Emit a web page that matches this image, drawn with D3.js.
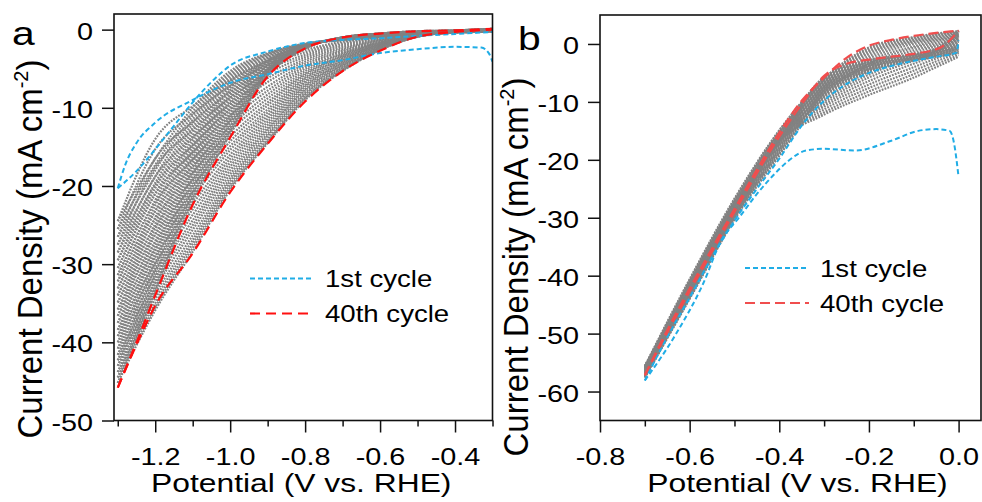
<!DOCTYPE html>
<html>
<head>
<meta charset="utf-8">
<script src="https://cdn.jsdelivr.net/npm/d3@7"></script>
<style>
	body { margin: 0; background: #fff; }
	text { font-family: "Liberation Sans", Arial, sans-serif; fill: #000; }
</style>
</head>
<body>
<svg id="chart" width="982" height="502"></svg>
<script>
/**
 * Panel a: cycling between -1.3 and -0.3 V.
 */
var potA = [-1.3, -1.2, -1.1, -1.0, -0.9, -0.8, -0.7, -0.6, -0.5, -0.4, -0.3];
// Intermediate cycles (gray), return scan.
var grayRevA = [
	[-24.5, -16.5, -10.0, -5.3, -3.0, -1.8, -1.3, -0.9, -0.6, -0.4, -0.2],
	[-25.5, -17.3, -10.5, -5.6, -3.1, -1.8, -1.3, -0.9, -0.6, -0.4, -0.2],
	[-26.5, -18.0, -11.0, -5.9, -3.2, -1.9, -1.3, -0.9, -0.6, -0.4, -0.2],
	[-27.5, -18.8, -11.5, -6.2, -3.3, -1.9, -1.3, -0.9, -0.6, -0.3, -0.2],
	[-28.5, -19.6, -12.0, -6.5, -3.5, -1.9, -1.2, -0.8, -0.5, -0.3, -0.2],
	[-29.5, -20.3, -12.5, -6.8, -3.6, -2.0, -1.2, -0.8, -0.5, -0.3, -0.2],
	[-30.5, -21.0, -13.0, -7.2, -3.7, -2.0, -1.2, -0.8, -0.5, -0.3, -0.1],
	[-31.4, -21.8, -13.5, -7.5, -3.9, -2.0, -1.2, -0.8, -0.5, -0.3, -0.1],
	[-32.2, -22.5, -14.0, -7.8, -4.0, -2.0, -1.2, -0.7, -0.5, -0.3, -0.1],
	[-33.1, -23.2, -14.5, -8.2, -4.1, -2.0, -1.2, -0.7, -0.5, -0.3, -0.1],
	[-34.0, -24.0, -15.0, -8.5, -4.2, -2.1, -1.1, -0.7, -0.4, -0.3, -0.1],
	[-34.9, -24.8, -15.5, -8.8, -4.3, -2.1, -1.1, -0.7, -0.4, -0.3, -0.1],
	[-35.8, -25.5, -16.0, -9.2, -4.5, -2.1, -1.1, -0.7, -0.4, -0.2, 0.0],
	[-36.6, -26.2, -16.5, -9.5, -4.6, -2.2, -1.1, -0.7, -0.4, -0.2, 0.0],
	[-37.5, -27.0, -17.0, -9.9, -4.7, -2.2, -1.1, -0.6, -0.4, -0.2, 0.0],
	[-38.4, -27.7, -17.5, -10.2, -4.8, -2.2, -1.1, -0.6, -0.4, -0.2, 0.0],
	[-39.2, -28.4, -18.0, -10.6, -5.0, -2.2, -1.1, -0.6, -0.3, -0.2, 0.0],
	[-40.0, -29.1, -18.5, -11.0, -5.1, -2.2, -1.0, -0.6, -0.3, -0.2, 0.0],
	[-40.8, -29.8, -19.0, -11.3, -5.2, -2.3, -1.0, -0.6, -0.3, -0.2, 0.0],
	[-41.6, -30.5, -19.5, -11.6, -5.3, -2.3, -1.0, -0.5, -0.3, -0.2, 0.0],
	[-42.3, -31.2, -20.0, -12.0, -5.4, -2.3, -1.0, -0.5, -0.3, -0.1, 0.1],
	[-43.0, -31.9, -20.5, -12.4, -5.5, -2.3, -1.0, -0.5, -0.3, -0.1, 0.1],
	[-43.8, -32.5, -21.0, -12.7, -5.6, -2.4, -1.0, -0.5, -0.2, -0.1, 0.1],
	[-44.5, -33.1, -21.5, -13.0, -5.8, -2.4, -1.0, -0.5, -0.2, -0.1, 0.1],
	[-45.2, -33.6, -22.0, -13.4, -5.9, -2.4, -1.0, -0.5, -0.2, -0.1, 0.1]
];
// Intermediate cycles (gray), forward scan.
var grayFwdA = [
	[-24.5, -14.0, -9.8, -6.5, -4.0, -2.6, -1.5, -0.9, -0.5, -0.3, -0.2],
	[-25.5, -15.3, -10.8, -7.2, -4.5, -2.9, -1.7, -1.0, -0.5, -0.3, -0.2],
	[-26.5, -16.5, -11.8, -8.0, -5.1, -3.2, -1.9, -1.1, -0.5, -0.3, -0.2],
	[-27.5, -17.6, -12.8, -8.7, -5.6, -3.5, -2.1, -1.2, -0.6, -0.3, -0.2],
	[-28.5, -18.8, -13.8, -9.5, -6.2, -3.8, -2.3, -1.3, -0.6, -0.3, -0.2],
	[-29.5, -19.9, -14.8, -10.2, -6.7, -4.1, -2.5, -1.3, -0.6, -0.3, -0.2],
	[-30.5, -21.0, -15.7, -11.0, -7.3, -4.4, -2.7, -1.4, -0.6, -0.3, -0.1],
	[-31.4, -22.1, -16.6, -11.7, -7.8, -4.7, -2.8, -1.5, -0.6, -0.3, -0.1],
	[-32.2, -23.2, -17.5, -12.4, -8.3, -5.0, -3.0, -1.6, -0.6, -0.3, -0.1],
	[-33.1, -24.2, -18.3, -13.0, -8.8, -5.3, -3.1, -1.6, -0.6, -0.3, -0.1],
	[-34.0, -25.2, -19.2, -13.7, -9.3, -5.6, -3.3, -1.7, -0.7, -0.3, -0.1],
	[-34.9, -26.2, -20.0, -14.3, -9.7, -5.8, -3.4, -1.8, -0.7, -0.3, -0.1],
	[-35.8, -27.2, -20.8, -14.9, -10.2, -6.1, -3.6, -1.9, -0.7, -0.3, -0.1],
	[-36.6, -28.1, -21.5, -15.4, -10.6, -6.3, -3.7, -1.9, -0.7, -0.3, 0.0],
	[-37.5, -29.0, -22.3, -16.0, -11.0, -6.6, -3.9, -2.0, -0.7, -0.3, 0.0],
	[-38.4, -29.9, -23.0, -16.5, -11.4, -6.8, -4.0, -2.0, -0.8, -0.3, 0.0],
	[-39.2, -30.8, -23.7, -17.0, -11.8, -7.1, -4.2, -2.1, -0.8, -0.3, 0.0],
	[-40.0, -31.6, -24.4, -17.5, -12.2, -7.3, -4.3, -2.2, -0.8, -0.3, 0.0],
	[-40.8, -32.4, -25.0, -18.0, -12.6, -7.6, -4.5, -2.3, -0.8, -0.3, 0.0],
	[-41.6, -33.1, -25.6, -18.5, -12.9, -7.8, -4.6, -2.3, -0.8, -0.3, 0.0],
	[-42.3, -33.8, -26.3, -19.0, -13.3, -8.1, -4.8, -2.4, -0.9, -0.3, 0.0],
	[-43.0, -34.4, -26.9, -19.4, -13.6, -8.3, -4.9, -2.5, -0.9, -0.3, 0.0],
	[-43.8, -35.0, -27.4, -19.8, -14.0, -8.6, -5.1, -2.5, -0.9, -0.3, 0.0],
	[-44.5, -35.5, -27.9, -20.2, -14.3, -8.8, -5.2, -2.6, -0.9, -0.3, 0.0],
	[-45.2, -35.9, -28.4, -20.5, -14.5, -9.0, -5.3, -2.6, -0.9, -0.3, 0.0]
];
// 40th cycle.
var redPotA = [-1.3, -1.25, -1.2, -1.1, -1.0, -0.9, -0.8, -0.7, -0.6, -0.5, -0.4, -0.3];
var redRevA = [-45.8, -40.0, -34.0, -22.4, -13.8, -6.0, -2.4, -1.0, -0.5, -0.2, -0.1, 0.1];
var redFwdA = [-45.8, -40.3, -35.3, -28.6, -20.8, -14.6, -9.2, -5.3, -2.7, -0.9, -0.3, 0.0];
// 1st cycle.
var bluePotFwdA = [-0.3, -0.31, -0.33, -0.4, -0.5, -0.6, -0.7, -0.8, -0.9, -1.0, -1.1, -1.2, -1.25, -1.28, -1.3];
var blueFwdA = [-4.1, -3.0, -2.3, -2.2, -2.5, -3.0, -3.9, -4.6, -5.7, -6.8, -9.0, -11.9, -14.5, -17.3, -20.3];
var bluePotRevA = [-1.3, -1.25, -1.2, -1.15, -1.1, -1.05, -1.0, -0.9, -0.8, -0.7, -0.6, -0.5, -0.4, -0.3];
var blueRevA = [-20.3, -18.1, -15.3, -12.3, -9.3, -6.7, -4.6, -2.8, -1.7, -1.3, -1.1, -0.8, -0.55, -0.3];
var xMajorA = [-1.2, -1.0, -0.8, -0.6, -0.4];
var xMinorA = [-1.3, -1.1, -0.9, -0.7, -0.5, -0.3];
var yTicksA = [0, -10, -20, -30, -40, -50];

/**
 * Panel b: cycling between -0.7 and 0 V.
 */
var potB = [0.0, -0.05, -0.1, -0.2, -0.3, -0.4, -0.5, -0.6, -0.7];
var grayFwdB = [
	[-2.2, -4.0, -5.8, -8.8, -12.2, -17.0, -29.8, -43.6, -57.6],
	[-1.9, -3.5, -5.2, -8.2, -11.8, -16.9, -29.6, -43.4, -57.5],
	[-1.5, -3.0, -4.6, -7.6, -11.3, -16.8, -29.4, -43.3, -57.4],
	[-1.1, -2.5, -4.0, -7.0, -10.8, -16.7, -29.3, -43.1, -57.2],
	[-0.8, -2.0, -3.4, -6.4, -10.4, -16.6, -29.1, -42.9, -57.1],
	[-0.5, -1.6, -2.9, -5.8, -10.0, -16.5, -28.9, -42.8, -56.9],
	[-0.2, -1.2, -2.4, -5.3, -9.6, -16.4, -28.8, -42.6, -56.8],
	[0.1, -0.8, -1.9, -4.8, -9.2, -16.3, -28.6, -42.4, -56.7],
	[0.4, -0.4, -1.5, -4.3, -8.8, -16.2, -28.4, -42.3, -56.6],
	[0.7, -0.1, -1.1, -3.8, -8.4, -16.1, -28.2, -42.1, -56.5],
	[0.9, 0.2, -0.7, -3.4, -8.1, -16.0, -28.1, -41.9, -56.4],
	[1.1, 0.5, -0.4, -2.9, -7.7, -15.9, -27.9, -41.8, -56.3],
	[1.3, 0.7, 0.0, -2.5, -7.4, -15.8, -27.7, -41.6, -56.2],
	[1.5, 0.9, 0.3, -2.1, -7.1, -15.6, -27.6, -41.4, -56.1],
	[1.7, 1.1, 0.5, -1.7, -6.8, -15.5, -27.4, -41.3, -56.0],
	[1.9, 1.3, 0.7, -1.4, -6.5, -15.3, -27.2, -41.1, -55.9],
	[2.0, 1.5, 0.9, -1.1, -6.3, -15.2, -27.0, -40.9, -55.8],
	[2.1, 1.7, 1.1, -0.8, -6.1, -15.0, -26.9, -40.8, -55.7],
	[2.2, 1.8, 1.2, -0.6, -6.0, -14.9, -26.7, -40.6, -55.6]
];
var grayRevB = [
	[-1.5, -2.2, -2.8, -4.8, -9.1, -19.3, -30.3, -44.0, -57.6],
	[-1.2, -2.1, -2.8, -4.7, -8.9, -19.0, -30.1, -43.9, -57.5],
	[-0.8, -2.0, -2.7, -4.6, -8.7, -18.8, -30.0, -43.7, -57.4],
	[-0.5, -1.9, -2.6, -4.5, -8.5, -18.5, -29.8, -43.6, -57.2],
	[-0.2, -1.8, -2.6, -4.4, -8.2, -18.3, -29.7, -43.4, -57.1],
	[0.1, -1.7, -2.5, -4.3, -8.0, -18.1, -29.5, -43.3, -56.9],
	[0.4, -1.6, -2.5, -4.1, -7.8, -17.9, -29.4, -43.2, -56.8],
	[0.7, -1.5, -2.4, -4.0, -7.6, -17.7, -29.2, -43.0, -56.7],
	[0.9, -1.4, -2.4, -3.9, -7.4, -17.5, -29.1, -42.9, -56.6],
	[1.1, -1.4, -2.3, -3.8, -7.2, -17.3, -28.9, -42.7, -56.5],
	[1.3, -1.3, -2.3, -3.6, -7.0, -17.2, -28.7, -42.6, -56.4],
	[1.5, -1.2, -2.2, -3.5, -6.8, -17.0, -28.6, -42.5, -56.3],
	[1.7, -1.2, -2.2, -3.4, -6.6, -16.9, -28.4, -42.3, -56.2],
	[1.9, -1.1, -2.1, -3.3, -6.4, -16.7, -28.3, -42.2, -56.1],
	[2.0, -1.1, -2.0, -3.2, -6.3, -16.6, -28.1, -42.0, -56.0],
	[2.1, -1.0, -1.9, -3.1, -6.1, -16.5, -28.0, -41.9, -55.9],
	[2.2, -1.0, -1.9, -3.0, -6.0, -16.4, -27.8, -41.8, -55.8],
	[2.3, -0.9, -1.8, -2.9, -5.8, -16.2, -27.7, -41.6, -55.7],
	[2.3, -0.9, -1.8, -2.8, -5.7, -16.1, -27.5, -41.5, -55.6]
];
var redPotFwdB = [0.0, -0.05, -0.1, -0.15, -0.2, -0.25, -0.3, -0.35, -0.4, -0.45, -0.5, -0.55, -0.6, -0.65, -0.7];
var redFwdB = [2.3, 1.9, 1.4, 0.7, -0.3, -2.4, -5.8, -9.8, -15.3, -21.7, -28.5, -35.3, -42.2, -49.4, -57.2];
var redPotRevB = [-0.7, -0.65, -0.6, -0.55, -0.5, -0.45, -0.4, -0.35, -0.3, -0.25, -0.2, -0.15, -0.1, -0.05, -0.04, 0.0];
var redRevB = [-57.2, -49.8, -42.7, -35.8, -29.0, -22.3, -16.0, -10.4, -5.5, -3.4, -2.7, -2.2, -1.7, -0.9, -0.6, 2.3];
var bluePotFwdB = [0.0, -0.01, -0.02, -0.05, -0.09, -0.15, -0.23, -0.3, -0.34, -0.38, -0.41, -0.45, -0.49, -0.53, -0.57, -0.63, -0.7];
var blueFwdB = [-23.0, -17.2, -15.0, -14.7, -15.0, -16.7, -18.4, -18.1, -18.4, -20.2, -22.4, -25.9, -30.0, -34.0, -41.4, -50.0, -58.1];
var bluePotRevB = [-0.7, -0.65, -0.6, -0.55, -0.5, -0.45, -0.4, -0.35, -0.3, -0.25, -0.2, -0.15, -0.1, -0.05, -0.005, 0.0];
var blueRevB = [-58.1, -50.6, -43.8, -36.8, -30.5, -25.0, -19.8, -14.1, -9.8, -6.9, -5.0, -3.8, -2.9, -2.2, -1.5, 0.6];
var xMajorB = [-0.8, -0.6, -0.4, -0.2, 0.0];
var xMinorB = [-0.7, -0.5, -0.3, -0.1];
var yTicksB = [0, -10, -20, -30, -40, -50, -60];

var legendLabels = ["1st cycle", "40th cycle"];

var svg = d3.select("#chart");
var grayStyle = { color: "#828282", width: 2.2, dash: "1.8,1.2" };
var blueStyle = { color: "#20ade6", width: 2, dash: "5,3" };

// Text drawn wider than the font, as in the original figure.
function wideText(parent, x, y, str, size, anchor) {
	return parent.append("text")
		.attr("transform", "translate(" + x + "," + y + ") scale(1.2,1)")
		.attr("text-anchor", anchor)
		.attr("font-size", size)
		.text(str);
}

function drawPanel(p) {
	var x = d3.scaleLinear().domain(p.xDomain).range([p.left, p.right]);
	var y = d3.scaleLinear().domain(p.yDomain).range([p.bottom, p.top]);
	var g = svg.append("g");

	g.append("clipPath").attr("id", "clip-" + p.name)
		.append("rect")
		.attr("x", p.left).attr("y", p.top)
		.attr("width", p.right - p.left).attr("height", p.bottom - p.top);

	var line = d3.line()
		.x(function (d) { return x(d[0]); })
		.y(function (d) { return y(d[1]); })
		.curve(d3.curveMonotoneX);

	var plot = g.append("g").attr("clip-path", "url(#clip-" + p.name + ")");

	function addCurve(xs, ys, s) {
		var pts = xs.map(function (v, i) { return [v, ys[i]]; })
			.sort(function (a, b) { return a[0] - b[0]; });
		plot.append("path")
			.datum(pts)
			.attr("d", line)
			.attr("fill", "none")
			.attr("stroke", s.color)
			.attr("stroke-width", s.width)
			.attr("stroke-dasharray", s.dash);
	}

	p.grayFwd.forEach(function (row) { addCurve(p.pot, row, grayStyle); });
	p.grayRev.forEach(function (row) { addCurve(p.pot, row, grayStyle); });
	addCurve(p.bluePotFwd, p.blueFwd, blueStyle);
	addCurve(p.bluePotRev, p.blueRev, blueStyle);
	addCurve(p.redPotFwd, p.redFwd, p.redStyle);
	addCurve(p.redPotRev, p.redRev, p.redStyle);

	// Frame.
	g.append("rect")
		.attr("x", p.left).attr("y", p.top)
		.attr("width", p.right - p.left).attr("height", p.bottom - p.top)
		.attr("fill", "none")
		.attr("stroke", "#111")
		.attr("stroke-width", 1.6);

	// Axes.
	var xAx = g.append("g")
		.attr("transform", "translate(0," + p.bottom + ")")
		.call(d3.axisBottom(x).tickValues(p.xMajor).tickSize(12).tickPadding(15)
			.tickFormat(function (d) { return d.toFixed(1); }));
	var xMin = g.append("g")
		.attr("transform", "translate(0," + p.bottom + ")")
		.call(d3.axisBottom(x).tickValues(p.xMinor).tickSize(6).tickFormat(""));
	var yAx = g.append("g")
		.attr("transform", "translate(" + p.left + ",0)")
		.call(d3.axisLeft(y).tickValues(p.yTicks).tickSize(12)
			.tickFormat(function (d) { return String(d); }));

	[xAx, xMin, yAx].forEach(function (a) {
		a.select(".domain").remove();
		a.attr("font-size", 24).attr("font-family", null);
		a.selectAll("line").attr("stroke", "#111").attr("stroke-width", 1.5);
		a.selectAll("text").attr("transform", "scale(1.2,1)");
	});
	yAx.selectAll("text").attr("x", -21 / 1.2).attr("dy", "0.4em");

	// Titles.
	wideText(g, p.letterX, p.letterY, p.name, 34, "start");
	wideText(g, (p.left + p.right) / 2 + p.xTitleShift, 492, "Potential (V vs. RHE)", 26.5, "middle");

	var yt = g.append("text")
		.attr("transform", "translate(" + p.yTitleX + "," + p.yTitleY + ") rotate(-90) scale(1,1.05)")
		.attr("text-anchor", "middle")
		.attr("font-size", 33);
	yt.append("tspan").text("Current Density (mA cm");
	yt.append("tspan").attr("font-size", 20).attr("dy", -13).text("-2");
	yt.append("tspan").attr("dy", 13).text(")");

	// Legend.
	var lg = g.append("g");
	[blueStyle, p.redStyle].forEach(function (s, i) {
		var ly = p.legendY + i * 35;
		lg.append("line")
			.attr("x1", p.legendX).attr("x2", p.legendX + 64)
			.attr("y1", ly).attr("y2", ly)
			.attr("stroke", s.color)
			.attr("stroke-width", s.width)
			.attr("stroke-dasharray", s.dash);
		wideText(lg, p.legendX + 75, ly + 8.5, legendLabels[i], 23, "start");
	});
}

drawPanel({
	name: "a",
	left: 114, right: 492.5, top: 14, bottom: 420.5,
	xDomain: [-1.31, -0.3], yDomain: [-50, 2],
	pot: potA, grayFwd: grayFwdA, grayRev: grayRevA,
	bluePotFwd: bluePotFwdA, blueFwd: blueFwdA, bluePotRev: bluePotRevA, blueRev: blueRevA,
	redPotFwd: redPotA, redFwd: redFwdA, redPotRev: redPotA, redRev: redRevA,
	redStyle: { color: "#ff1010", width: 2.2, dash: "10,6" },
	xMajor: xMajorA, xMinor: xMinorA, yTicks: yTicksA,
	letterX: 12, letterY: 45, xTitleShift: -2,
	yTitleX: 42, yTitleY: 249,
	legendX: 250, legendY: 278.5
});

drawPanel({
	name: "b",
	left: 600, right: 981, top: 15, bottom: 420.5,
	xDomain: [-0.8, 0.05], yDomain: [-65, 5],
	pot: potB, grayFwd: grayFwdB, grayRev: grayRevB,
	bluePotFwd: bluePotFwdB, blueFwd: blueFwdB, bluePotRev: bluePotRevB, blueRev: blueRevB,
	redPotFwd: redPotFwdB, redFwd: redFwdB, redPotRev: redPotRevB, redRev: redRevB,
	redStyle: { color: "#f04e4e", width: 2.2, dash: "10,5" },
	xMajor: xMajorB, xMinor: xMinorB, yTicks: yTicksB,
	letterX: 518, letterY: 50, xTitleShift: 7,
	yTitleX: 528, yTitleY: 267,
	legendX: 745, legendY: 268
});
</script>
</body>
</html>
